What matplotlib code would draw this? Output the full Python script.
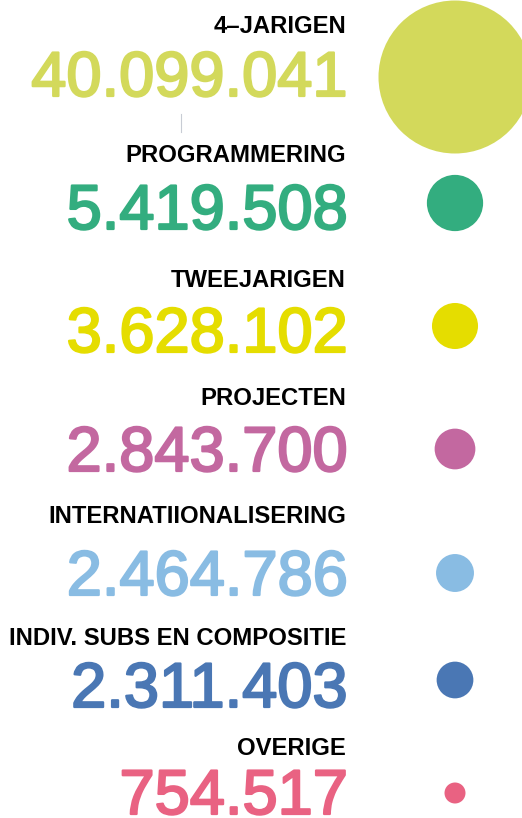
import numpy as np
import matplotlib.pyplot as plt
import matplotlib.patheffects as pe

labels = ['4–JARIGEN', 'PROGRAMMERING', 'TWEEJARIGEN', 'PROJECTEN',
          'INTERNATIIONALISERING', 'INDIV. SUBS EN COMPOSITIE', 'OVERIGE']
values = [40099041, 5419508, 3628102, 2843700, 2464786, 2311403, 754517]
colors = ['#D3D95B', '#33AD7F', '#E5DD00', '#C368A0', '#89BCE3', '#4A77B4', '#E96282']

# layout (pixel rows, top-down)
label_y = [33, 162, 287, 405, 523, 645, 755]
number_y = [96, 229, 352, 471, 595, 707, 814]
circle_y = [77, 203, 326, 449, 573, 680, 793]
circle_x = 455
max_radius = 76.5

W, H = 522, 818
fig = plt.figure(figsize=(W / 100, H / 100), dpi=100)
ax = fig.add_axes([0, 0, 1, 1])
ax.set_xlim(0, W)
ax.set_ylim(H, 0)
ax.axis('off')

def fmt(v):
    return f'{v:,}'.replace(',', '.')

# circle area proportional to value
vals = np.array(values, dtype=float)
radii = max_radius * np.sqrt(vals / vals.max())
for r, y, c in zip(radii, circle_y, colors):
    ax.add_patch(plt.Circle((circle_x, y), r, color=c, lw=0))

for lab, v, c, ly, ny in zip(labels, values, colors, label_y, number_y):
    ax.text(346, ly, lab, ha='right', va='baseline', fontsize=17.2,
            fontweight='bold', family='Liberation Sans', color='black')
    t = ax.text(348, ny, fmt(v), ha='right', va='baseline', fontsize=45.5,
                family='Liberation Sans', color=c)
    # a bit heavier, like the medium weight in the original
    t.set_path_effects([pe.withStroke(linewidth=1.6, foreground=c)])

# small separator tick under the first number
ax.plot([181, 181], [114, 132], color='#c8ccd4', lw=0.8)

fig.savefig('out.png', dpi=100)
